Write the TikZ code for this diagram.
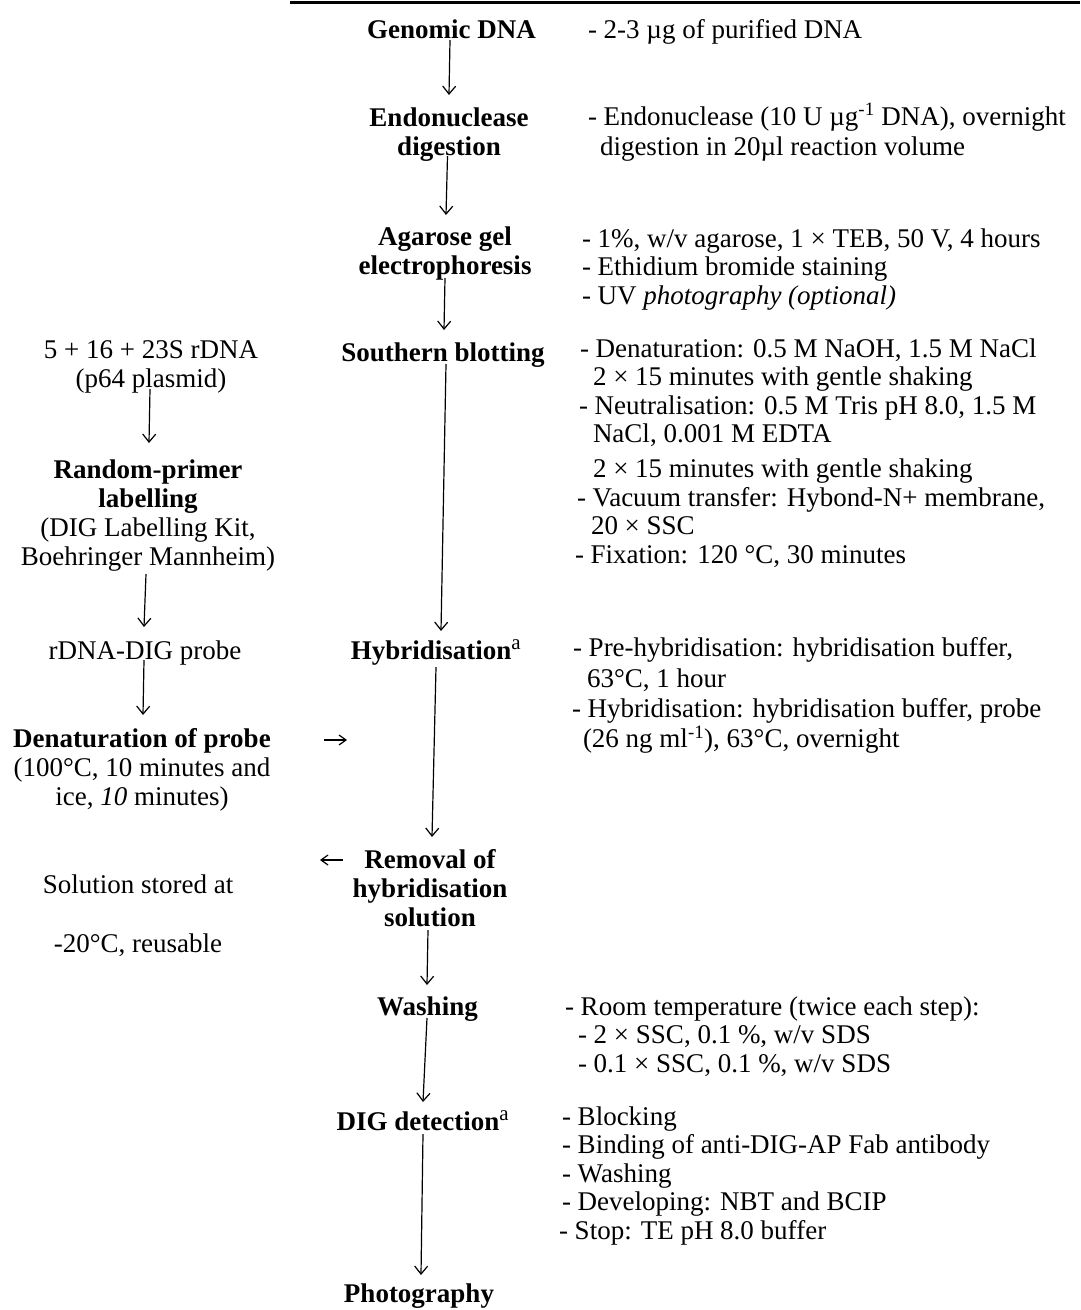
\documentclass[tikz,border=0pt]{standalone}
\usepackage{fontspec}
\setmainfont{Liberation Serif}
\usetikzlibrary{arrows.meta,calc}
\newcommand{\txtlines}[2]{\begin{tabular}[t]{@{}#1@{}}#2\end{tabular}}
\newcommand{\supa}{\textsuperscript{\normalfont\fontsize{21}{21}\selectfont a}}
\begin{document}
\begin{tikzpicture}[x=1pt,y=-1pt,
  every node/.style={inner sep=0pt,outer sep=0pt},
  plain/.style={font=\fontsize{27}{29}\selectfont,anchor=base},
  stepbox/.style={font=\fontsize{27}{29}\selectfont\bfseries,anchor=base},
  note/.style={font=\fontsize{27}{28.5}\selectfont,anchor=base west},
  flow/.style={line width=1.2pt,-{Straight Barb[length=8pt,width=13pt,line width=1.2pt]}},
  side/.style={line width=1.2pt,-{Straight Barb[length=7pt,width=10pt,line width=1.2pt]}},
  toprule/.style={line width=2.5pt}]
\fill[white] (0,0) rectangle (1080,1310);
\useasboundingbox (0,0) rectangle (1080,1310);
\draw[toprule] (290,2.5) -- (1080,2.5);

% main column
\node[stepbox] (gen)   at (451.5,38)  {\txtlines{c}{Genomic DNA}};
\node[stepbox] (endo)  at (449,126)   {\txtlines{c}{Endonuclease\\digestion}};
\node[stepbox] (agar)  at (445,245)   {\txtlines{c}{Agarose gel\\electrophoresis}};
\node[stepbox] (south) at (443,361)   {\txtlines{c}{Southern blotting}};
\node[stepbox] (hyb)   at (436,659)   {\txtlines{c}{Hybridisation\supa}};
\node[stepbox] (rem)   at (430,868)   {\txtlines{c}{Removal of\\hybridisation\\solution}};
\node[stepbox] (wash)  at (427.5,1015){\txtlines{c}{Washing}};
\node[stepbox] (dig)   at (423,1130)  {\txtlines{c}{DIG detection\supa}};
\node[stepbox] (photo) at (419,1302)  {\txtlines{c}{Photography}};

% probe column
\node[plain] (plasmid) at (151,358) {\txtlines{c}{5 + 16 + 23S rDNA\\(p64 plasmid)}};
\node[plain] (label)   at (148,478) {\txtlines{c}{\textbf{Random-primer}\\\textbf{labelling}\\(DIG Labelling Kit,\\Boehringer Mannheim)}};
\node[plain] (probe)   at (145,659) {\txtlines{c}{rDNA-DIG probe}};
\node[plain] (denat)   at (142,747) {\txtlines{c}{\textbf{Denaturation of probe}\\(100°C, 10 minutes and\\ice, \textit{10} minutes)}};
\node[plain] (store)   at (138,893) {\txtlines{c}{Solution stored at\\[30pt]-20°C, reusable}};

% notes column
\node[note] (n1) at (588,38)  {\txtlines{l}{- 2-3 µg of purified DNA}};
\node[note] (n2) at (588,125) {\txtlines{l}{- Endonuclease (10 U µg\textsuperscript{-1} DNA), overnight\\[1.5pt]\hspace*{12pt}digestion in 20µl reaction volume}};
\node[note] (n3) at (582,247) {\txtlines{l}{- 1\%, w/v agarose, 1 × TEB, 50 V, 4 hours\\- Ethidium bromide staining\\- UV \textit{photography (optional)}}};
\node[note] (n4) at (580,357) {\txtlines{l}{- Denaturation: 0.5 M NaOH, 1.5 M NaCl\\
\hspace*{13pt}2 × 15 minutes with gentle shaking\\
\hspace*{-1pt}- Neutralisation: 0.5 M Tris pH 8.0, 1.5 M\\
\hspace*{13pt}NaCl, 0.001 M EDTA\\[6.5pt]
\hspace*{13pt}2 × 15 minutes with gentle shaking\\
\hspace*{-3pt}- Vacuum transfer: Hybond-N+ membrane,\\
\hspace*{11pt}20 × SSC\\
\hspace*{-5pt}- Fixation: 120 °C, 30 minutes}};
\node[note] (n5) at (573,656) {\txtlines{l}{- Pre-hybridisation: hybridisation buffer,\\[3pt]
\hspace*{14pt}63°C, 1 hour\\[1.5pt]
\hspace*{-1pt}- Hybridisation: hybridisation buffer, probe\\
\hspace*{10pt}(26 ng ml\textsuperscript{-1}), 63°C, overnight}};
\node[note] (n6) at (565,1015) {\txtlines{l}{- Room temperature (twice each step):\\
\hspace*{13pt}- 2 × SSC, 0.1 \%, w/v SDS\\
\hspace*{13pt}- 0.1 × SSC, 0.1 \%, w/v SDS}};
\node[note] (n7) at (562,1125) {\txtlines{l}{- Blocking\\- Binding of anti-DIG-AP Fab antibody\\- Washing\\- Developing: NBT and BCIP\\\hspace*{-3pt}- Stop: TE pH 8.0 buffer}};

% main flow
\draw[flow] ($(gen.base)+(-1.5,2)$)   -- ($(endo.base)+(0,-31)$);
\draw[flow] ($(endo.base)+(-1.5,30)$) -- ($(agar.base)+(1,-30)$);
\draw[flow] ($(agar.base)+(0,33)$)    -- ($(south.base)+(1,-31)$);
\draw[flow] ($(south.base)+(3,3)$)    -- ($(hyb.base)+(5,-28)$);
\draw[flow] ($(hyb.base)+(0,8)$)      -- ($(rem.base)+(2,-31)$);
\draw[flow] ($(rem.base)+(-2,62)$)    -- ($(wash.base)+(-0.5,-30)$);
\draw[flow] ($(wash.base)+(-0.5,3)$)  -- ($(dig.base)+(0,-28)$);
\draw[flow] ($(dig.base)+(0,4)$)      -- ($(photo.base)+(2,-27)$);

% probe flow
\draw[flow] ($(plasmid.base)+(-1,31)$) -- ($(label.base)+(1,-35)$);
\draw[flow] ($(label.base)+(-2,96)$)   -- ($(probe.base)+(-1,-32)$);
\draw[flow] ($(probe.base)+(-1,1)$)    -- ($(denat.base)+(1,-32)$);

% side arrows
\coordinate (intoHyb) at (347,740);
\coordinate (toStore) at (320,860);
\draw[side] ($(denat.base)+(182,-7)$) -- (intoHyb);
\draw[side] ($(rem.base)+(-87,-8)$) -- (toStore);
\end{tikzpicture}
\end{document}
